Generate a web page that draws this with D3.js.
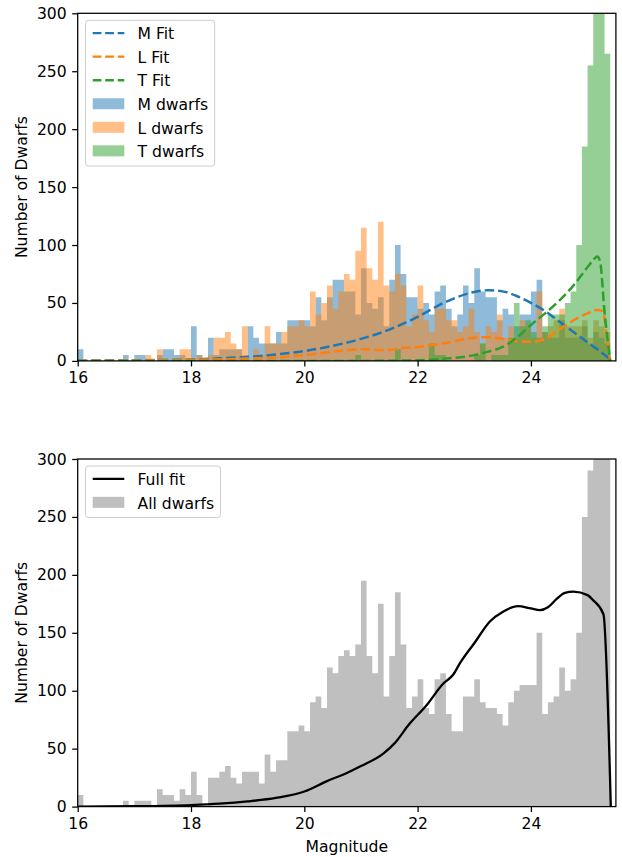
<!DOCTYPE html>
<html>
<head>
<meta charset="utf-8">
<script src="https://cdn.jsdelivr.net/npm/d3@7"></script>
<style>
  body { margin: 0; background: #fff; }
  svg { display: block; }
  text { font-family: "DejaVu Sans", sans-serif; }
</style>
</head>
<body>
<svg id="chart" width="622" height="857"></svg>
<script>
// Histogram bins: 0.1 mag wide, starting at 16.0
const binWidth = 0.1;
const binStarts = d3.range(94).map(i => +(16 + i * binWidth).toFixed(1));

// Counts per bin
const mCounts = [10,0,0,0,0,0,0,0,5,0, 5,5,0,0,5,10,10,5,5,0, 30,5,0,20,5,10,10,10,10,0,
  30,20,15,15,15,25,15,35,35,35, 35,30,55,35,55,70,70,60,60,40, 80,50,45,55,30,70,100,75,55,55,
  45,50,40,60,65,45,30,40,65,50, 80,60,55,55,35,45,40,30,40,40, 60,70,25,20,20,35,20,20,20,30,
  15,25,20,15];
const lCounts = [0,0,0,0,0,0,0,0,0,0, 0,0,5,0,10,0,0,0,10,10, 0,5,0,5,20,20,25,15,10,30,
  0,10,5,30,15,15,25,30,30,35, 30,60,40,50,65,45,60,75,70,95, 115,80,70,120,65,60,75,65,30,40,
  65,35,25,45,45,35,35,25,30,45, 25,15,30,25,40,20,30,20,35,30, 20,60,25,30,35,45,30,30,30,35,
  20,35,30,25];
const tCounts = [0,0,0,0,0,0,0,0,0,0, 0,0,0,0,0,0,0,0,0,0, 0,0,0,0,0,0,0,0,0,0,
  0,0,0,0,0,0,0,0,0,0, 0,0,0,0,0,0,0,0,0,5, 0,0,0,0,0,0,10,0,0,0,
  0,0,15,5,5,0,0,0,0,0, 5,15,0,5,5,5,20,50,30,35, 25,20,30,40,40,40,50,60,100,185,
  255,340,330,265];
const allCounts = [10,0,0,0,0,0,0,0,5,0, 5,5,5,0,15,10,10,5,15,10, 30,10,0,25,25,30,35,25,20,30,
  30,30,20,45,30,40,40,65,65,70, 65,90,95,85,120,115,130,135,130,140, 195,130,115,175,95,130,185,140,85,95,
  110,85,80,110,115,80,65,65,95,95, 110,90,85,85,80,70,90,100,105,105, 105,150,80,90,95,120,100,110,150,250,
  290,400,380,305];

// Fitted curves (magnitude, count)
const mFitMag = [16,16.5,17,17.5,18,18.5,19,19.5,20,20.5,21,21.5,22,22.5,23,23.25,23.5,23.75,24,24.25,24.5,24.75,25,25.2,25.4];
const mFitVal = [0.2,0.3,0.5,0.8,1.3,2.2,3.5,5.5,8.5,13,19,27,38,51,59.5,61,60,56,50,43,34,25,16,9,1.5];
const lFitMag = [16,17,18,19,19.5,20,20.5,20.8,21,21.3,21.5,21.7,22,22.5,23,23.25,23.5,23.75,24,24.25,24.5,24.75,25,25.15,25.27,25.33,25.4];
const lFitVal = [0,0.3,1,2,3,5,8,9.5,10,9.5,9.3,11,12,15.5,20,20.5,19,17,16.5,19,27,35,41,44,43,25,0];
const tFitMag = [16,21,22,22.5,23,23.25,23.5,23.75,24,24.25,24.5,24.75,25,25.1,25.17,25.22,25.3,25.4];
const tFitVal = [0,0,0.5,2,5,8,12,20,31,41,52,65,81,87,90,86,42,0];
const fullFitMag = [16,17,18,18.5,19,19.5,20,20.4,20.75,21,21.4,21.6,21.85,22.15,22.45,22.63,22.75,23,23.28,23.5,23.77,24,24.16,24.3,24.45,24.6,24.75,25,25.1,25.28,25.41];
const fullFitVal = [0,0.3,1.3,2.5,4.5,7.5,13,22,29,35,46,55,71,87,106,114,124,141,160,168,173,171,169.5,172,179,184.5,185.5,182.5,178,166,0];

// Axis ticks
const xTicks = [16,18,20,22,24];
const yTicks = [0,50,100,150,200,250,300];

const FS = 15.6;
const svg = d3.select("#chart");
const left = 77.7, right = 615.9;
const x = d3.scaleLinear().domain([16, 25.5]).range([left, right]);

const panels = [
  { id: "top", y0: 13.3, y1: 360.9 },
  { id: "bottom", y0: 459, y1: 806.6 }
];

const zip = (a, b) => a.map((v, i) => [v, b[i]]);

function drawPanel(p, hists, fits, legendItems, xLabel) {
  const y = d3.scaleLinear().domain([0, 300]).range([p.y1, p.y0]);
  const g = svg.append("g");
  const clipId = "clip-" + p.id;
  svg.append("defs").append("clipPath").attr("id", clipId)
    .append("rect").attr("x", left).attr("y", p.y0)
    .attr("width", right - left).attr("height", p.y1 - p.y0);

  const plot = g.append("g").attr("clip-path", `url(#${clipId})`);

  // Each histogram is one stepped outline so adjacent bars join without seams
  const stepArea = d3.area()
    .x(d => x(d[0])).y0(y(0)).y1(d => y(d[1]))
    .curve(d3.curveStepAfter);
  hists.forEach(h => {
    const pts = binStarts.map((b, i) => [b, h.values[i]]);
    const lastBin = binStarts[binStarts.length - 1];
    pts.push([+(lastBin + binWidth).toFixed(1), 0]);
    plot.append("path")
      .datum(pts)
      .attr("d", stepArea)
      .attr("fill", h.color)
      .attr("fill-opacity", 0.5);
  });

  fits.forEach(f => {
    plot.append("path")
      .datum(zip(f.mag, f.val))
      .attr("d", d3.line().x(d => x(d[0])).y(d => y(d[1])).curve(d3.curveMonotoneX))
      .attr("fill", "none")
      .attr("stroke", f.color)
      .attr("stroke-width", f.width)
      .attr("stroke-dasharray", f.dash || null);
  });

  // Axes
  const xa = g.append("g").attr("transform", `translate(0,${p.y1})`)
    .call(d3.axisBottom(x).tickValues(xTicks).tickSize(5.5).tickPadding(5.5).tickFormat(d3.format("d")));
  const ya = g.append("g").attr("transform", `translate(${left},0)`)
    .call(d3.axisLeft(y).tickValues(yTicks).tickSize(5.5).tickPadding(5.5).tickFormat(d3.format("d")));
  [xa, ya].forEach(a => {
    a.select(".domain").remove();
    a.selectAll("line").attr("stroke", "#000").attr("stroke-width", 1.26);
    a.selectAll("text").attr("font-size", FS).attr("fill", "#000")
      .attr("font-family", "DejaVu Sans, sans-serif");
  });

  g.append("rect").attr("x", left).attr("y", p.y0)
    .attr("width", right - left).attr("height", p.y1 - p.y0)
    .attr("fill", "none").attr("stroke", "#000").attr("stroke-width", 1.26);

  g.append("text")
    .attr("transform", `translate(27,${(p.y0 + p.y1) / 2}) rotate(-90)`)
    .attr("text-anchor", "middle").attr("font-size", FS)
    .text("Number of Dwarfs");

  if (xLabel) {
    g.append("text").attr("x", (left + right) / 2).attr("y", 852)
      .attr("text-anchor", "middle").attr("font-size", FS).text(xLabel);
  }

  // Legend
  const lg = g.append("g");
  const boxX = 85.5, boxY = p.y0 + 7;
  const rowGap = 23.55, firstRow = 12.8;
  const box = lg.append("rect");
  let maxW = 0;
  legendItems.forEach((it, i) => {
    const cy = boxY + firstRow + i * rowGap;
    if (it.type === "line") {
      lg.append("line").attr("x1", 92.7).attr("x2", 124.3).attr("y1", cy).attr("y2", cy)
        .attr("stroke", it.color).attr("stroke-width", it.width)
        .attr("stroke-dasharray", it.dash || null);
    } else {
      lg.append("rect").attr("x", 92.7).attr("y", cy - 5.5).attr("width", 31.6).attr("height", 11)
        .attr("fill", it.color).attr("fill-opacity", 0.5);
    }
    const t = lg.append("text").attr("x", 137.5).attr("y", cy + 6.2)
      .attr("font-size", FS).text(it.label);
    maxW = Math.max(maxW, t.node().getComputedTextLength());
  });
  const boxH = firstRow + (legendItems.length - 1) * rowGap + 15.2;
  box.attr("x", boxX).attr("y", boxY).attr("width", 137.5 + maxW + 6.5 - boxX).attr("height", boxH)
    .attr("rx", 3).attr("ry", 3)
    .attr("fill", "#fff").attr("fill-opacity", 0.8)
    .attr("stroke", "#cccccc").attr("stroke-width", 1);
}

const C = { m: "#1f77b4", l: "#ff7f0e", t: "#2ca02c" };
const dash = "9.5,4";

drawPanel(panels[0],
  [ { values: mCounts, color: C.m }, { values: lCounts, color: C.l }, { values: tCounts, color: C.t } ],
  [ { mag: mFitMag, val: mFitVal, color: C.m, width: 2.5, dash },
    { mag: lFitMag, val: lFitVal, color: C.l, width: 2.5, dash },
    { mag: tFitMag, val: tFitVal, color: C.t, width: 2.5, dash } ],
  [ { type: "line", label: "M Fit", color: C.m, width: 2.4, dash: "8.7,3.8" },
    { type: "line", label: "L Fit", color: C.l, width: 2.4, dash: "8.7,3.8" },
    { type: "line", label: "T Fit", color: C.t, width: 2.4, dash: "8.7,3.8" },
    { type: "patch", label: "M dwarfs", color: C.m },
    { type: "patch", label: "L dwarfs", color: C.l },
    { type: "patch", label: "T dwarfs", color: C.t } ],
  null);

drawPanel(panels[1],
  [ { values: allCounts, color: "#808080" } ],
  [ { mag: fullFitMag, val: fullFitVal, color: "#000", width: 2.3 } ],
  [ { type: "line", label: "Full fit", color: "#000", width: 2.3 },
    { type: "patch", label: "All dwarfs", color: "#808080" } ],
  "Magnitude");
</script>
</body>
</html>
